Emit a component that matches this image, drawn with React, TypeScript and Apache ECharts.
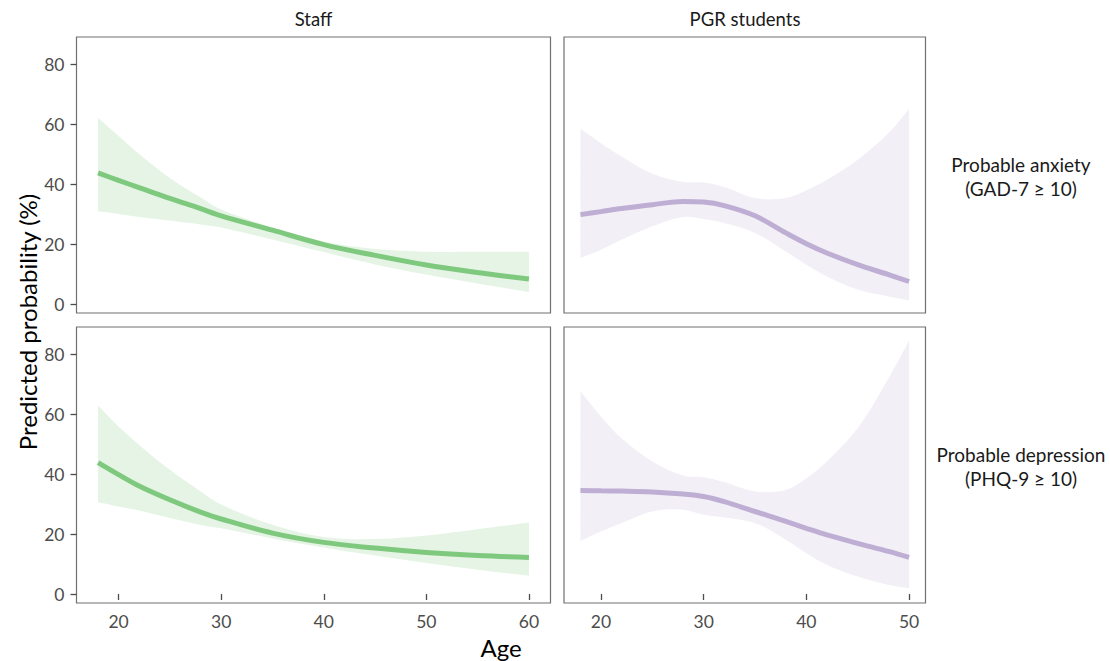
import React, { useEffect, useRef } from "react";
import * as echarts from "echarts";

const agesStaff = [18, 20, 22, 25, 28, 30, 35, 40, 45, 50, 55, 60];
const agesPgr = [18, 20, 22, 25, 28, 30, 32, 35, 38, 40, 42, 45, 48, 50];

const staffAnxFit = [43.7, 41.2, 38.8, 35.2, 31.8, 29.4, 24.6, 19.8, 16.2, 13.0, 10.5, 8.3];
const staffAnxHi = [62, 56, 50, 42, 35.5, 31.5, 25.5, 20.8, 18.3, 17.4, 17.4, 17.4];
const staffAnxLo = [30.9, 30, 29, 27.8, 26.5, 25.5, 21.5, 17.3, 13.2, 9.8, 6.8, 4.0];

const pgrAnxFit = [29.8, 30.8, 31.8, 33.1, 34.2, 34.0, 32.8, 29.4, 23.7, 20.1, 17.0, 13.1, 9.8, 7.5];
const pgrAnxHi = [58.3, 53.6, 49.2, 43.4, 40.7, 40.5, 39.0, 35.3, 35.3, 37.9, 41.4, 48.1, 57, 65];
const pgrAnxLo = [15.3, 18.1, 21.4, 25.9, 29.0, 28.3, 27.0, 23.7, 17.5, 13.1, 9.2, 4.8, 2.5, 1.2];

const staffDepFit = [43.8, 39.8, 36.0, 31.4, 27.3, 25.0, 20.3, 17.2, 15.3, 13.8, 12.8, 12.2];
const staffDepHi = [62.8, 55.8, 49.7, 41.4, 34.2, 29.8, 23.1, 19.0, 18.3, 19.5, 21.6, 23.8];
const staffDepLo = [30.6, 29.2, 27.8, 25.3, 23.0, 21.9, 18.5, 15.5, 12.8, 10.3, 8.1, 6.1];

const pgrDepFit = [34.5, 34.4, 34.3, 34.0, 33.3, 32.5, 30.8, 27.5, 24.2, 21.9, 19.7, 16.9, 14.2, 12.2];
const pgrDepHi = [67.5, 59.2, 51.9, 44.2, 39.5, 38.9, 37.3, 34.2, 34.7, 38.6, 44.2, 55.3, 71.9, 84.4];
const pgrDepLo = [17.7, 20.8, 23.6, 27.5, 28.1, 26.4, 25.5, 23.6, 18.1, 13.6, 9.7, 5.8, 3.0, 1.9];

const yTicks = [0, 20, 40, 60, 80];
const xTicksStaff = [20, 30, 40, 50, 60];
const xTicksPgr = [20, 30, 40, 50];

const colTitles = ["Staff", "PGR students"];
const rowTitles = ["Probable anxiety\n(GAD-7 \u2265 10)", "Probable depression\n(PHQ-9 \u2265 10)"];
const xTitle = "Age";
const yTitle = "Predicted probability (%)";

const GREEN = "#7fc97f";
const PURPLE = "#beaed4";
const FONT = "Lato";
const SMOOTH = 0.35;

// smooth path through screen points, same scheme as ECharts line smoothing
function smoothSegs(pts: number[][], s: number, start: boolean): string {
  let d = start ? `M${pts[0][0]},${pts[0][1]}` : `L${pts[0][0]},${pts[0][1]}`;
  const n = pts.length;
  const cps: number[][] = pts.map((p, i) => {
    const prev = pts[Math.max(0, i - 1)];
    const next = pts[Math.min(n - 1, i + 1)];
    const vx = next[0] - prev[0];
    const vy = next[1] - prev[1];
    const l0 = Math.hypot(p[0] - prev[0], p[1] - prev[1]);
    const l1 = Math.hypot(next[0] - p[0], next[1] - p[1]);
    const r = l0 + l1 > 0 ? l1 / (l0 + l1) : 0.5;
    return [p[0] - vx * s * (1 - r), p[1] - vy * s * (1 - r), p[0] + vx * s * r, p[1] + vy * s * r];
  });
  for (let i = 1; i < n; i++) {
    const a = cps[i - 1];
    const b = cps[i];
    d += ` C${a[2]},${a[3]} ${b[0]},${b[1]} ${pts[i][0]},${pts[i][1]}`;
  }
  return d;
}

export default function App() {
  const ref = useRef<HTMLDivElement>(null);
  useEffect(() => {
    document.body.style.margin = "0";
    const chart = echarts.init(ref.current!, null, { renderer: "svg" });

    const grids = [
      { left: 76.5, top: 37, width: 474, height: 276 },
      { left: 564, top: 37, width: 361.5, height: 276 },
      { left: 76.5, top: 327, width: 474, height: 276 },
      { left: 564, top: 327, width: 361.5, height: 276 },
    ].map((g) => ({ ...g, show: true, borderColor: "#707070", borderWidth: 1.2, backgroundColor: "#fff" }));

    const panels = [
      { ages: agesStaff, fit: staffAnxFit, lo: staffAnxLo, hi: staffAnxHi, color: GREEN, xr: [15.9, 62.1], xt: xTicksStaff, bottom: false, left: true },
      { ages: agesPgr, fit: pgrAnxFit, lo: pgrAnxLo, hi: pgrAnxHi, color: PURPLE, xr: [16.4, 51.6], xt: xTicksPgr, bottom: false, left: false },
      { ages: agesStaff, fit: staffDepFit, lo: staffDepLo, hi: staffDepHi, color: GREEN, xr: [15.9, 62.1], xt: xTicksStaff, bottom: true, left: true },
      { ages: agesPgr, fit: pgrDepFit, lo: pgrDepLo, hi: pgrDepHi, color: PURPLE, xr: [16.4, 51.6], xt: xTicksPgr, bottom: true, left: false },
    ];

    const tickStyle = { color: "#4d4d4d", width: 1.3 };
    const labelStyle = { color: "#4d4d4d", fontSize: 17.5, fontFamily: FONT };

    const xAxes = panels.map((p, i) => ({
      type: "value",
      gridIndex: i,
      min: p.xr[0],
      max: p.xr[1],
      axisLine: { show: false },
      splitLine: { show: false },
      axisTick: { show: p.bottom, length: 6, lineStyle: tickStyle, customValues: p.xt },
      axisLabel: { show: p.bottom, margin: 9, ...labelStyle, customValues: p.xt },
    }));
    const yAxes = panels.map((p, i) => ({
      type: "value",
      gridIndex: i,
      min: -3,
      max: 89,
      axisLine: { show: false },
      splitLine: { show: false },
      axisTick: { show: p.left, length: 6, lineStyle: tickStyle, customValues: yTicks },
      axisLabel: { show: p.left, margin: 12, ...labelStyle, customValues: yTicks },
    }));

    const series: any[] = [];
    panels.forEach((p, i) => {
      const fill = p.color === GREEN ? "rgba(127,201,127,0.2)" : "rgba(190,174,212,0.2)";
      series.push({
        type: "custom",
        xAxisIndex: i,
        yAxisIndex: i,
        silent: true,
        z: 2,
        data: p.ages.map((a, k) => [a, p.lo[k], p.hi[k]]),
        encode: { x: 0, y: [1, 2] },
        renderItem: (params: any, api: any) => {
          if (params.dataIndex !== 0) return null;
          const up = p.ages.map((a, k) => api.coord([a, p.hi[k]]));
          const dn = p.ages.map((a, k) => api.coord([a, p.lo[k]])).reverse();
          const d = smoothSegs(up, SMOOTH, true) + " " + smoothSegs(dn, SMOOTH, false) + " Z";
          return { type: "path", shape: { pathData: d }, style: { fill, stroke: "none" } };
        },
      });
      series.push({
        type: "line",
        xAxisIndex: i,
        yAxisIndex: i,
        smooth: SMOOTH,
        symbol: "none",
        z: 5,
        lineStyle: { width: 5, color: p.color, cap: "butt" },
        data: p.ages.map((a, k) => [a, p.fit[k]]),
      });
    });

    const textBase = { fill: "#1a1a1a", fontFamily: FONT };
    const graphic: any[] = [
      { type: "text", x: 313.5, y: 19, style: { ...textBase, text: colTitles[0], fontSize: 18.5, align: "center", verticalAlign: "middle" } },
      { type: "text", x: 745, y: 19, style: { ...textBase, text: colTitles[1], fontSize: 18.5, align: "center", verticalAlign: "middle" } },
      { type: "text", x: 1021, y: 176, style: { ...textBase, text: rowTitles[0], fontSize: 19, lineHeight: 24, align: "center", verticalAlign: "middle" } },
      { type: "text", x: 1021, y: 466, style: { ...textBase, text: rowTitles[1], fontSize: 19, lineHeight: 24, align: "center", verticalAlign: "middle" } },
      { type: "text", x: 501, y: 647, style: { fill: "#000", fontFamily: FONT, text: xTitle, fontSize: 24, align: "center", verticalAlign: "middle" } },
      { type: "text", x: 27, y: 322, rotation: Math.PI / 2, style: { fill: "#000", fontFamily: FONT, text: yTitle, fontSize: 24, align: "center", verticalAlign: "middle" } },
    ];

    chart.setOption({
      animation: false,
      backgroundColor: "#fff",
      grid: grids,
      xAxis: xAxes,
      yAxis: yAxes,
      series,
      graphic,
    });
    return () => chart.dispose();
  }, []);
  return <div ref={ref} style={{ width: 1110, height: 661, position: "absolute", left: 0, top: 0 }} />;
}
